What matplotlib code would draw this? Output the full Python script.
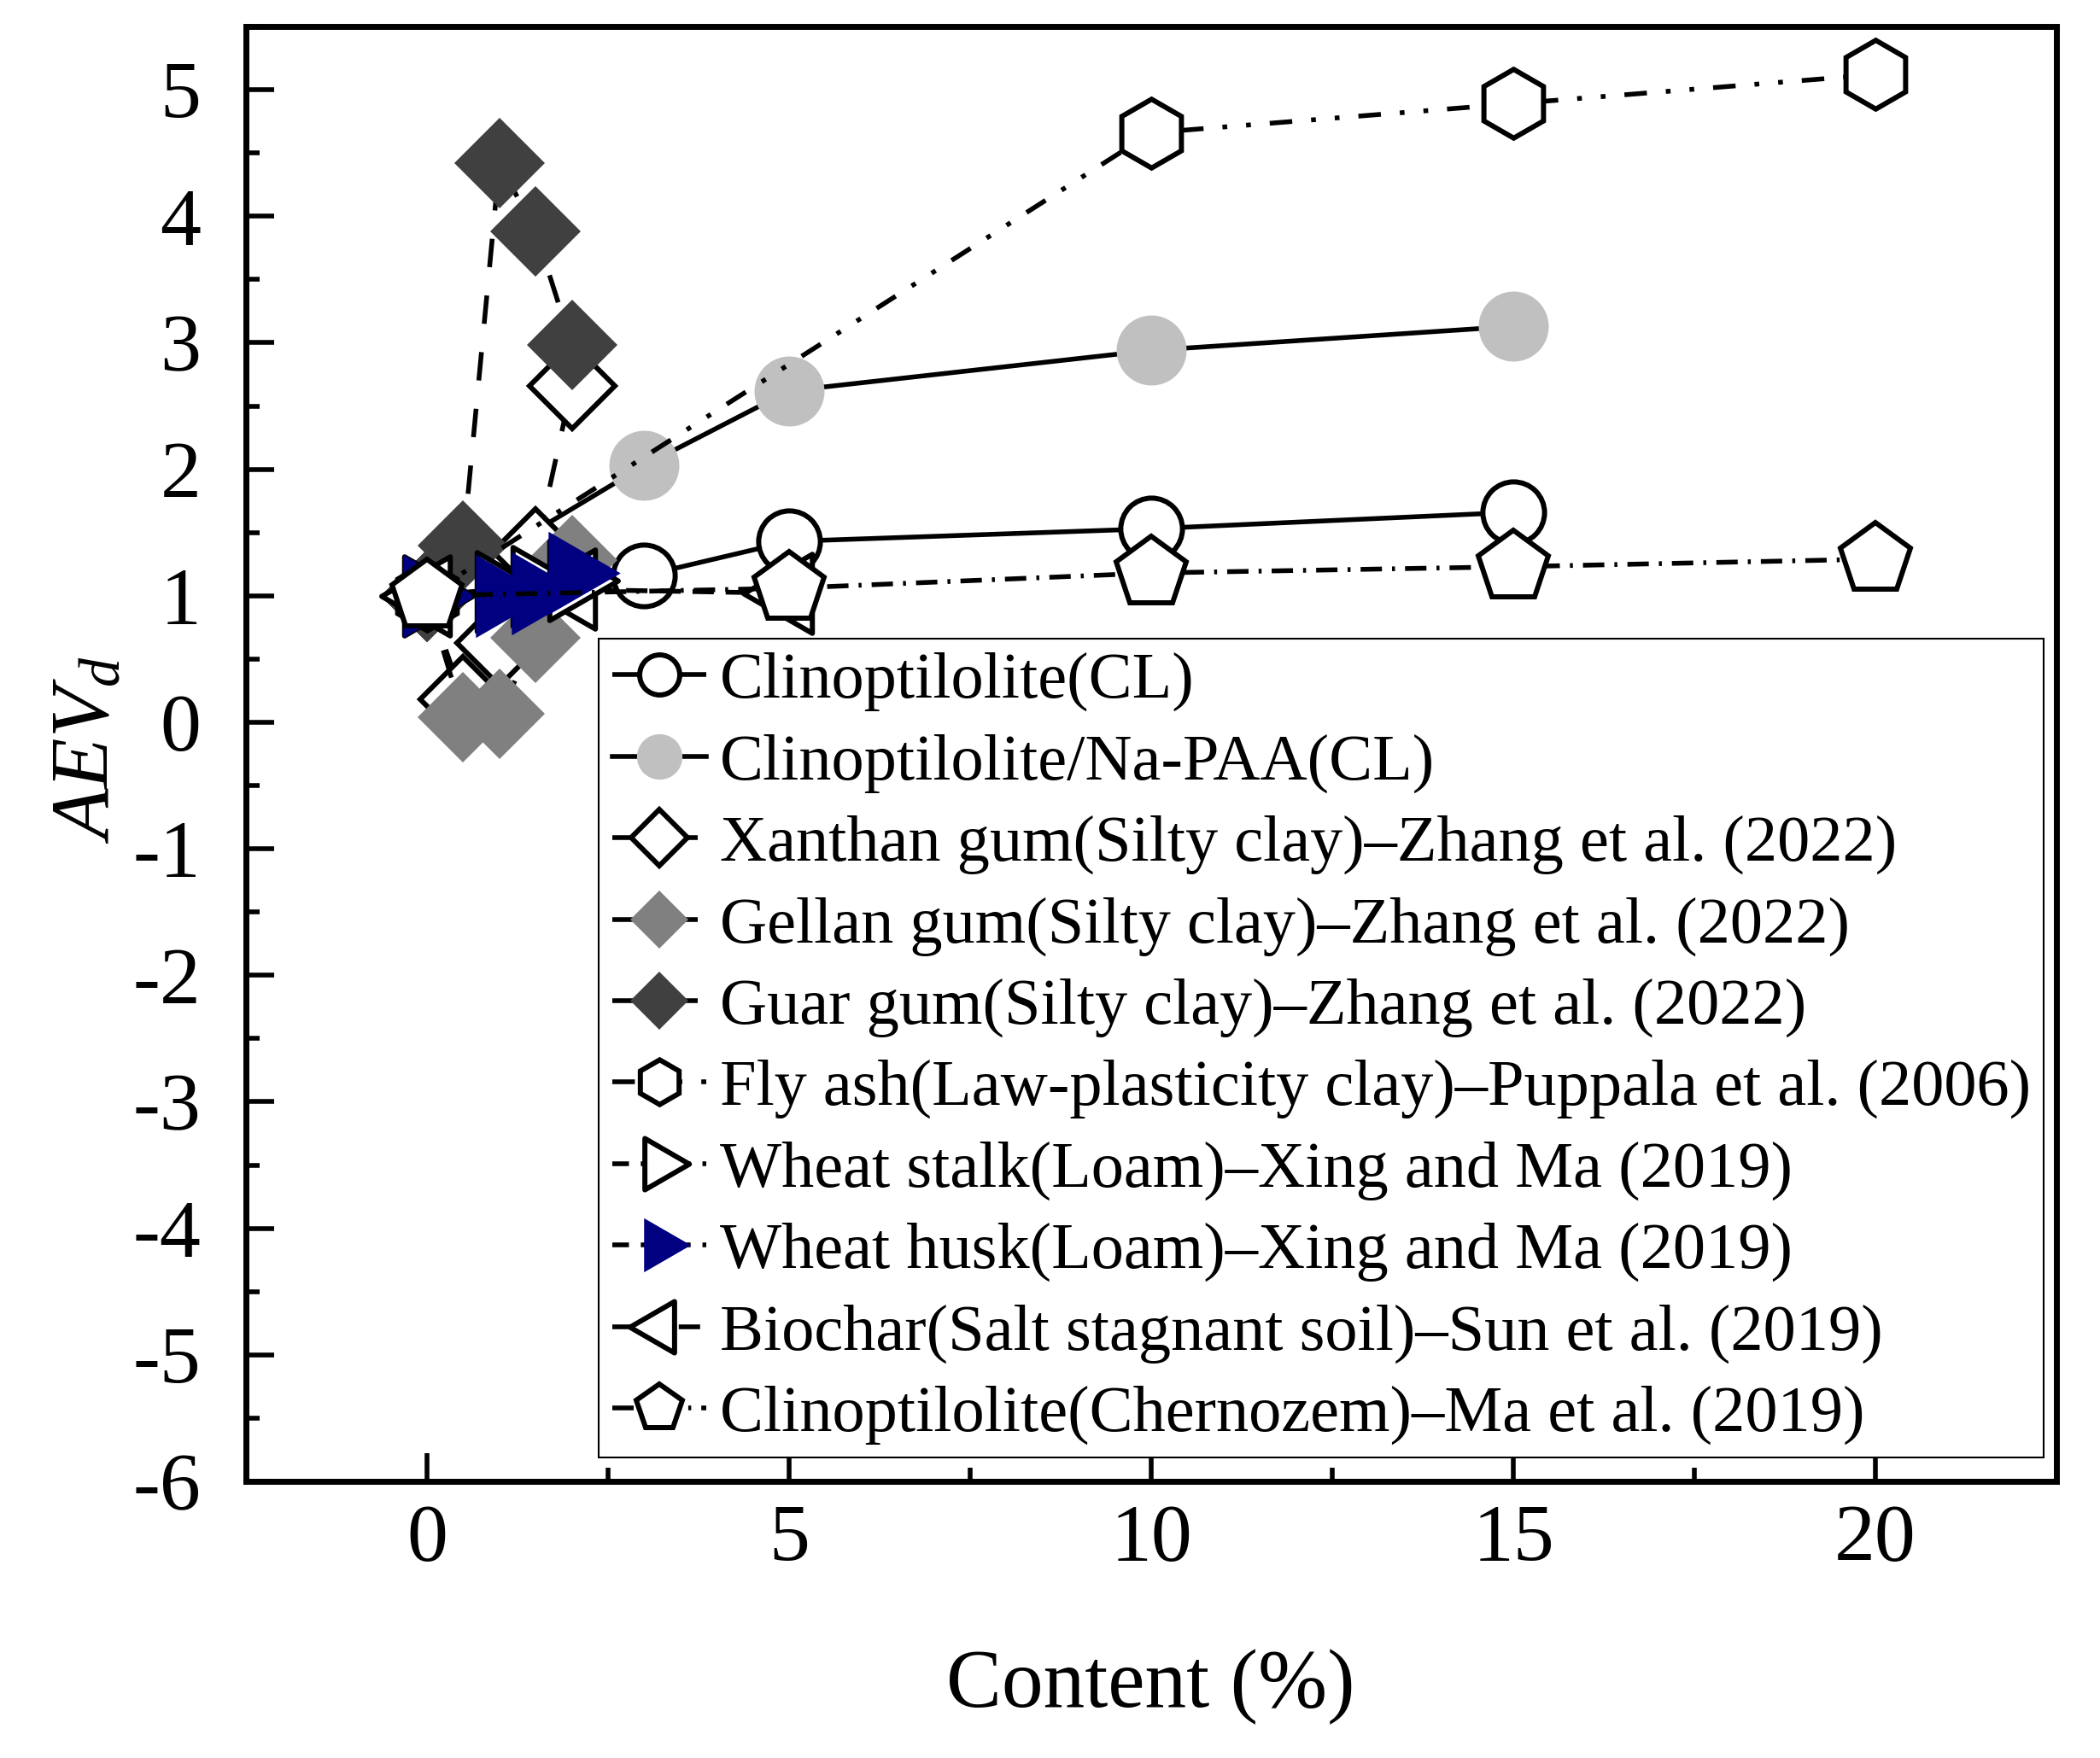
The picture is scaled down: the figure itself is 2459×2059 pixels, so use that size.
import matplotlib
matplotlib.use('Agg')
import matplotlib.pyplot as plt
from matplotlib.path import Path
from matplotlib.ticker import MultipleLocator

plt.rcParams['font.family'] = ['Liberation Serif', 'DejaVu Serif']
plt.rcParams['mathtext.fontset'] = 'custom'
plt.rcParams['mathtext.rm'] = 'Liberation Serif'
plt.rcParams['mathtext.it'] = 'Liberation Serif:italic'
plt.rcParams['lines.scale_dashes'] = False
plt.rcParams['axes.unicode_minus'] = False

# ---------------- data ----------------
x_cl = [0, 3, 5, 10, 15]
y_cl = [1.0, 1.16, 1.43, 1.53, 1.66]

x_paa = [0, 3, 5, 10, 15]
y_paa = [1.0, 2.03, 2.62, 2.94, 3.13]

x_gum = [0, 0.5, 1, 1.5, 2]
y_xanthan = [1.0, 0.18, 0.63, 1.35, 2.66]
y_gellan = [1.0, 0.04, 0.07, 0.67, 1.28]
y_guar = [1.0, 1.40, 4.42, 3.88, 2.98]

x_flyash = [0, 10, 15, 20]
y_flyash = [1.0, 4.66, 4.89, 5.12]

x_wheat = [0, 1, 1.5, 2]
y_stalk = [1.0, 1.03, 1.07, 1.12]
y_husk = [1.0, 1.0, 1.02, 1.18]

x_biochar = [0, 2, 5]
y_biochar = [1.0, 1.05, 1.02]

x_cherno = [0, 5, 10, 15, 20]
y_cherno = [1.0, 1.06, 1.18, 1.23, 1.29]

labels = [
    "Clinoptilolite(CL)",
    "Clinoptilolite/Na-PAA(CL)",
    "Xanthan gum(Silty clay)\u2013Zhang et al. (2022)",
    "Gellan gum(Silty clay)\u2013Zhang et al. (2022)",
    "Guar gum(Silty clay)\u2013Zhang et al. (2022)",
    "Fly ash(Law-plasticity clay)\u2013Puppala et al. (2006)",
    "Wheat stalk(Loam)\u2013Xing and Ma (2019)",
    "Wheat husk(Loam)\u2013Xing and Ma (2019)",
    "Biochar(Salt stagnant soil)\u2013Sun et al. (2019)",
    "Clinoptilolite(Chernozem)\u2013Ma et al. (2019)",
]

x_ticks = [0, 5, 10, 15, 20]
y_ticks = [-6, -5, -4, -3, -2, -1, 0, 1, 2, 3, 4, 5]

# ---------------- markers ----------------
codes = [Path.MOVETO, Path.LINETO, Path.LINETO, Path.CLOSEPOLY]
tri_right = Path([(1, 0), (-0.5, 0.866), (-0.5, -0.866), (1, 0)], codes)
tri_left = Path([(-1, 0), (0.5, 0.866), (0.5, -0.866), (-1, 0)], codes)

fig = plt.figure(figsize=(24.59, 20.59), dpi=100)
ax = fig.add_axes([0.1171, 0.1574, 0.9793 - 0.1171, 0.9849 - 0.1574])

LW = 4.0
MEW = 4.3
common_open = dict(color='black', lw=LW, mfc='white', mec='black', mew=MEW,
                   dash_capstyle='butt', solid_capstyle='butt')

h = [None] * 10
h[0], = ax.plot(x_cl, y_cl, marker='o', ms=52, ls='-', label=labels[0], zorder=2.0, **common_open)
h[1], = ax.plot(x_paa, y_paa, marker='o', ms=59, ls='-', color='black', lw=LW,
                mfc='#C0C0C0', mec='#C0C0C0', mew=0, label=labels[1], zorder=2.01)
h[2], = ax.plot(x_gum, y_xanthan, marker='D', ms=51, dashes=(24, 24), label=labels[2],
                zorder=2.02, **common_open)
h[3], = ax.plot(x_gum, y_gellan, marker='D', ms=54, color='black', lw=LW, dashes=(24, 24),
                mfc='#808080', mec='#808080', mew=0, dash_capstyle='butt', label=labels[3],
                zorder=2.03)
h[4], = ax.plot(x_gum, y_guar, marker='D', ms=54, color='black', lw=LW, dashes=(24, 24),
                mfc='#404040', mec='#404040', mew=0, dash_capstyle='butt', label=labels[4],
                zorder=2.04)
h[5], = ax.plot(x_flyash, y_flyash, marker='h', ms=58, dashes=(19, 16, 4, 16, 4, 16),
                label=labels[5], zorder=2.05, **common_open)
h[8], = ax.plot(x_biochar, y_biochar, marker=tri_left, ms=77, dashes=(18, 10),
                label=labels[8], zorder=2.06, **common_open)
h[6], = ax.plot(x_wheat, y_stalk, marker=tri_right, ms=77, dashes=(14, 10, 4, 10),
                label=labels[6], zorder=2.07, **common_open)
h[7], = ax.plot(x_wheat, y_husk, marker=tri_right, ms=81, color='black', lw=LW,
                dashes=(14, 10, 4, 10), mfc='#000080', mec='#000080', mew=0,
                dash_capstyle='butt', label=labels[7], zorder=2.08)
h[9], = ax.plot(x_cherno, y_cherno, marker='p', ms=62, dashes=(18, 8.5, 2.5, 8.5),
                label=labels[9], zorder=2.09, **common_open)

# ---------------- axes ----------------
ax.set_xlim(-2.5, 22.5)
ax.set_ylim(-6, 5.5)
ax.set_xticks(x_ticks)
ax.set_yticks(y_ticks)
ax.xaxis.set_minor_locator(MultipleLocator(2.5))
ax.yaxis.set_minor_locator(MultipleLocator(0.5))
for s in ax.spines.values():
    s.set_linewidth(5)
ax.tick_params(which='both', direction='in', top=False, right=False, width=4)
ax.tick_params(which='major', length=24, labelsize=69)
ax.tick_params(which='minor', length=11.5)
ax.tick_params(axis='x', which='major', pad=19)
ax.tick_params(axis='y', which='major', pad=38)

fig.text(0.548, 1 - 1976 / 2059, "Content (%)", fontsize=70, ha='center', va='center')
fig.text(104 / 2459, 1 - 878 / 2059, r"$AEV_d$", fontsize=70, rotation=90,
         ha='center', va='center')

leg = ax.legend(handles=h, labels=labels, loc='upper left', bbox_to_anchor=(0.195, 0.579),
                borderaxespad=0, fontsize=55, markerscale=0.65, handlelength=1.45,
                handletextpad=0.2, labelspacing=0.336, borderpad=0.2, frameon=True,
                fancybox=False, edgecolor='black', framealpha=1)
leg.get_frame().set_linewidth(1.5)
leg.set_zorder(5)

fig.savefig('out.png', dpi=100)
